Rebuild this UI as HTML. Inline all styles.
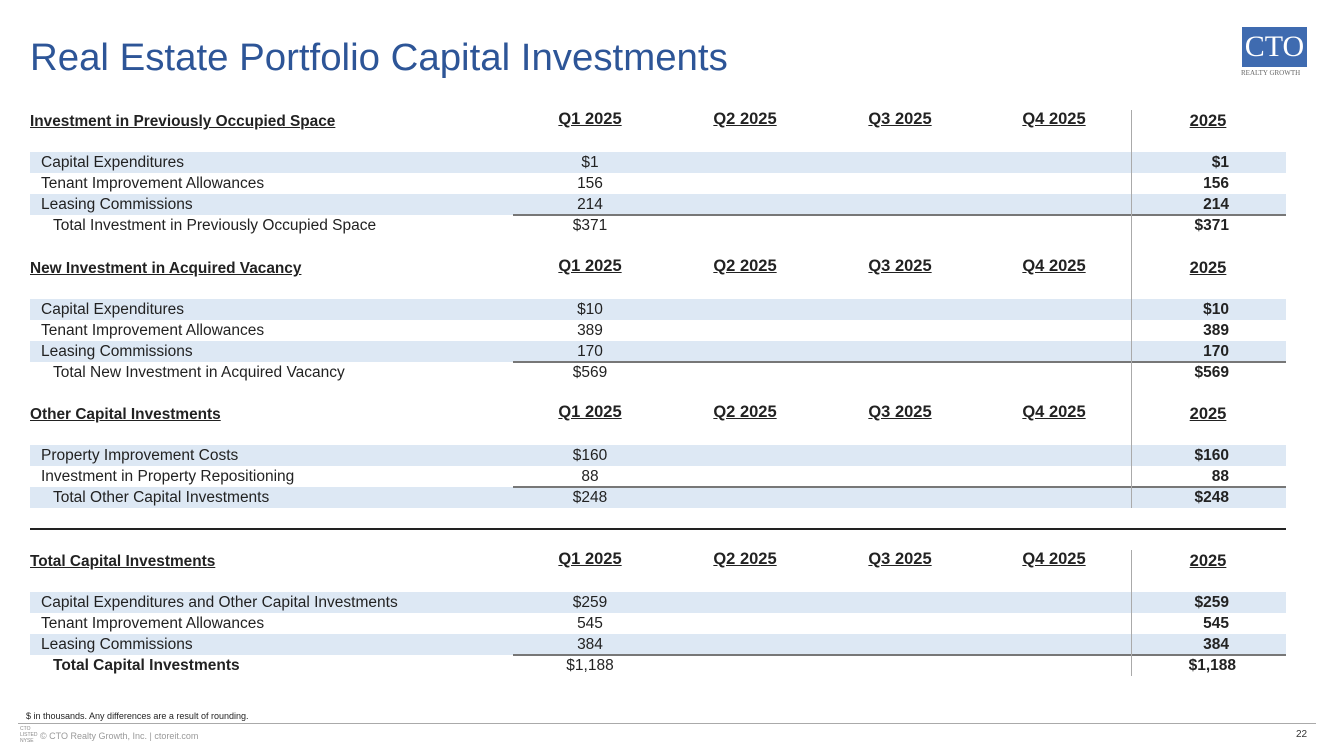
<!DOCTYPE html>
<html><head><meta charset="utf-8">
<style>
body{margin:0;width:1333px;height:749px;background:#fff;position:relative;overflow:hidden;font-family:"Liberation Sans",sans-serif;color:#222}
.a{position:absolute;white-space:nowrap}
.band{position:absolute;left:30px;width:1256px;height:21px;background:#dde8f4}
.t{font-size:15.5px;line-height:21px}
.h{font-size:15.4px;font-weight:bold;text-decoration:underline;line-height:21px}
.p{font-size:16.5px;font-weight:bold;text-decoration:underline;line-height:21px}
</style></head><body>
<div class="a" style="left:30px;top:36px;font-size:38.4px;color:#2d5597;">Real Estate Portfolio Capital Investments</div>
<div class="a" style="left:1242px;top:27px;width:65px;height:40px;background:#3f6bb0;color:#fff;font-family:'Liberation Serif',serif;font-size:30px;text-align:center;line-height:40px;">CTO</div>
<div class="a" style="left:1241px;top:69px;font-size:7px;color:#666;font-family:'Liberation Serif',serif;">REALTY GROWTH</div>
<div id="tbl"></div>
<div class="a" style="left:30px;top:528px;width:1256px;height:1.5px;background:#222"></div>
<div class="a" style="left:26px;top:711px;font-size:9px;color:#222">$ in thousands. Any differences are a result of rounding.</div>
<div class="a" style="left:18px;top:723px;width:1298px;height:1px;background:#aaa"></div>
<div class="a" style="left:20px;top:726px;font-size:5px;color:#888;line-height:6px">CTO<br>LISTED<br>NYSE</div>
<div class="a" style="left:40px;top:731px;font-size:9px;color:#999">© CTO Realty Growth, Inc. | ctoreit.com</div>
<div class="a" style="left:1296px;top:729px;font-size:10px;color:#333">22</div>
<script>
const periods=["Q1 2025","Q2 2025","Q3 2025","Q4 2025"];
const sectionTitles=["Investment in Previously Occupied Space","New Investment in Acquired Vacancy","Other Capital Investments","Total Capital Investments"];
const sectionTops=[111,258,404,551];
const rowLabels=[
 ["Capital Expenditures","Tenant Improvement Allowances","Leasing Commissions","Total Investment in Previously Occupied Space"],
 ["Capital Expenditures","Tenant Improvement Allowances","Leasing Commissions","Total New Investment in Acquired Vacancy"],
 ["Property Improvement Costs","Investment in Property Repositioning","Total Other Capital Investments"],
 ["Capital Expenditures and Other Capital Investments","Tenant Improvement Allowances","Leasing Commissions","Total Capital Investments"]];
const q1Values=[["$1","156","214","$371"],["$10","389","170","$569"],["$160","88","$248"],["$259","545","384","$1,188"]];
const yearValues=[["$1","156","214","$371"],["$10","389","170","$569"],["$160","88","$248"],["$259","545","384","$1,188"]];
const tbl=document.getElementById('tbl');
const colX=[590,745,900,1054];
function add(html,cls,style,name){const d=document.createElement('div');d.className='a '+cls;d.style.cssText=style;d.textContent=html;


tbl.appendChild(d);return d;}
sectionTitles.forEach((t,s)=>{
 const top=sectionTops[s];
 add(t,'h',`left:30px;top:${top}px`,'section-header');
 periods.forEach((p,i)=>add(p,'p',`left:${colX[i]-45}px;width:90px;text-align:center;top:${top-2}px`,'period-header'));
 add("2025",'p',`left:1163px;width:90px;text-align:center;top:${top}px`,'year-header');
 const r0=top+41,n=rowLabels[s].length;
 rowLabels[s].forEach((lab,r)=>{
  const y=r0+r*21,isTot=r===n-1,final=s===3&&isTot;
  if(r%2===0){const b=document.createElement('div');b.className='band';b.style.top=y+'px';
   
   
   tbl.appendChild(b);}
  add(lab,'t',`left:${isTot?53:41}px;top:${y}px;${final?'font-weight:bold':''}`,'row-label');
  add(q1Values[s][r],'t',`left:540px;width:100px;text-align:center;top:${y}px`,'q1-value');
  add(yearValues[s][r],'t',`left:1120px;width:109px;text-align:right;font-weight:bold;top:${y}px${final?';width:116px':''}`,'year-value');
  if(isTot){const l=document.createElement('div');l.className='a';l.style.cssText=`left:513px;top:${y-1}px;width:773px;height:1.5px;background:#777`;
   
   
   tbl.appendChild(l);}
 });
});
[[110,508],[550,676]].forEach(v=>{const l=document.createElement('div');l.className='a';l.style.cssText=`left:1131px;top:${v[0]}px;width:1px;height:${v[1]-v[0]}px;background:#aaa`;
 
 
 tbl.appendChild(l);});
</script>
</body></html>
